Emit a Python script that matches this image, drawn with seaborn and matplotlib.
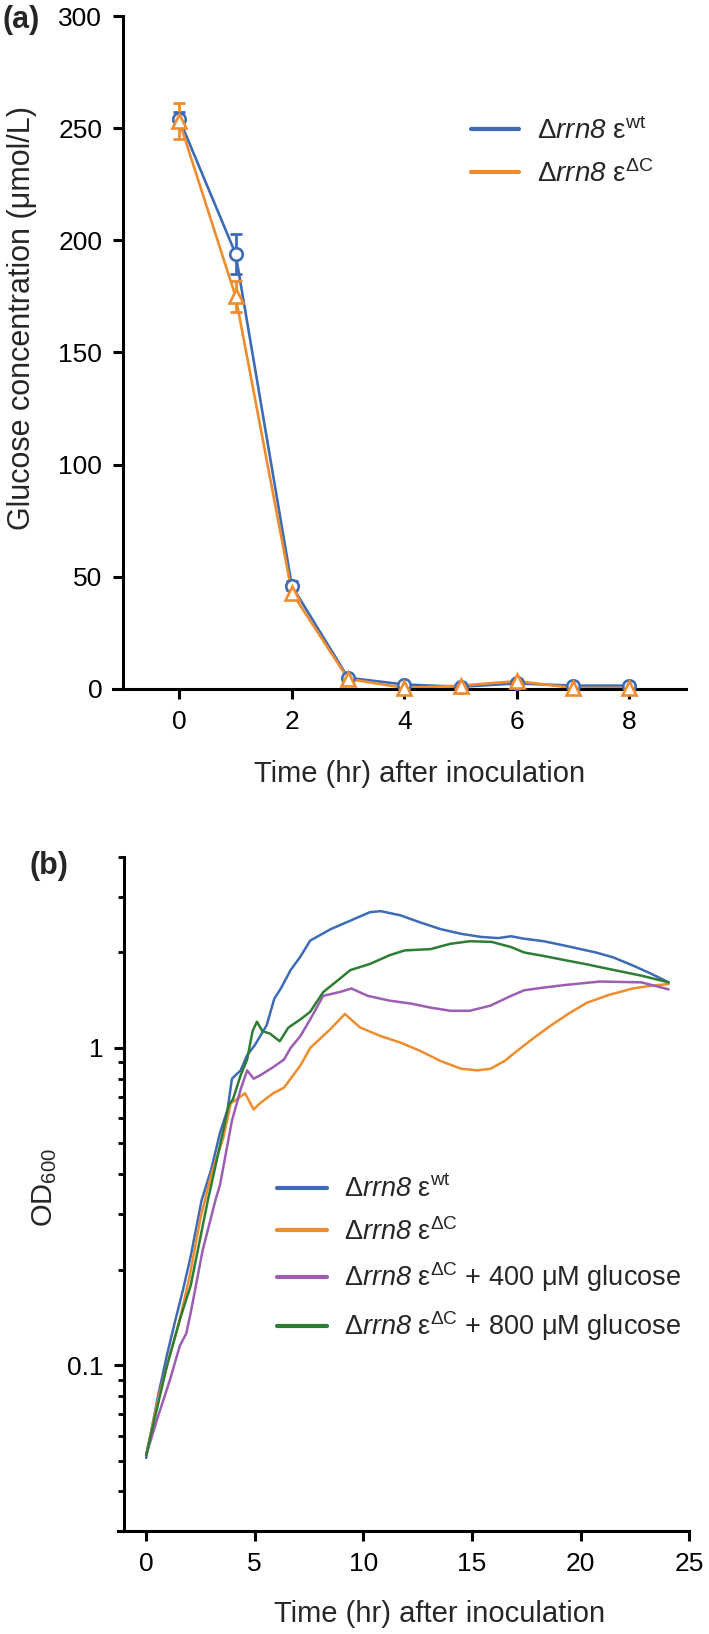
import matplotlib
matplotlib.use("Agg")
import matplotlib.pyplot as plt
import seaborn as sns
import pandas as pd
from matplotlib.ticker import LogLocator, NullFormatter

# ---- (a) glucose left in the medium ----
hours_a = [0, 1, 2, 3, 4, 5, 6, 7, 8]
glc_wt = [254, 194, 46, 5, 2, 1, 2.5, 1.5, 1.5]
glc_wt_err = [3, 9, 2, 1, 0.5, 0.5, 0.5, 0.5, 0.5]
glc_dc = [253, 175, 43, 4.5, 0.5, 1.5, 3.5, 0.5, 0.5]
glc_dc_err = [8, 7, 3, 1, 0.5, 0.5, 1, 0.5, 0.5]

# ---- (b) growth curves (OD600) ----
t_wt = [0, 0.55, 0.95, 1.35, 1.7, 2.05, 2.55, 3.0, 3.4, 3.75, 3.95, 4.35, 4.65, 5.0,
        5.55, 5.9, 6.2, 6.65, 7.1, 7.55, 8.5, 9.4, 10.3, 10.8, 11.7, 12.6, 13.55,
        14.5, 15.4, 16.2, 16.8, 17.4, 18.3, 19.3, 20.7, 21.5, 22.4, 23.2, 24.05]
od_wt = [0.051, 0.08, 0.107, 0.139, 0.173, 0.22, 0.33, 0.415, 0.54, 0.64, 0.80, 0.85,
         0.95, 1.02, 1.18, 1.43, 1.54, 1.76, 1.94, 2.18, 2.37, 2.52, 2.68, 2.70, 2.62,
         2.49, 2.37, 2.29, 2.24, 2.22, 2.25, 2.21, 2.17, 2.10, 2.0, 1.93, 1.82, 1.72, 1.61]

t_dc = [0, 0.55, 1.0, 1.5, 2.0, 2.5, 3.0, 3.55, 3.9, 4.2, 4.55, 4.95, 5.25, 5.85, 6.35,
        6.65, 7.1, 7.55, 8.5, 9.15, 9.85, 10.8, 11.7, 12.6, 13.55, 14.5, 15.25, 15.85,
        16.5, 17.0, 17.8, 18.65, 19.5, 20.3, 21.3, 22.4, 23.2, 24.05]
od_dc = [0.052, 0.078, 0.102, 0.135, 0.19, 0.29, 0.40, 0.52, 0.67, 0.69, 0.72, 0.64,
         0.67, 0.72, 0.75, 0.80, 0.88, 1.0, 1.15, 1.28, 1.16, 1.09, 1.04, 0.98, 0.91,
         0.86, 0.85, 0.86, 0.91, 0.97, 1.07, 1.18, 1.29, 1.39, 1.47, 1.54, 1.57, 1.59]

t_400 = [0, 0.55, 1.1, 1.55, 1.85, 2.05, 2.6, 3.2, 3.4, 3.95, 4.35, 4.65, 4.95, 5.25,
         5.85, 6.35, 6.65, 7.1, 7.55, 8.15, 8.9, 9.45, 10.2, 11.2, 12.2, 13.1, 14.0,
         14.9, 15.85, 16.8, 17.4, 18.3, 19.3, 20.9, 22.8, 24.05]
od_400 = [0.052, 0.069, 0.09, 0.115, 0.126, 0.146, 0.23, 0.333, 0.37, 0.59, 0.74, 0.85,
          0.80, 0.82, 0.87, 0.92, 1.0, 1.09, 1.23, 1.46, 1.50, 1.54, 1.46, 1.41, 1.38,
          1.34, 1.31, 1.31, 1.36, 1.46, 1.52, 1.55, 1.58, 1.62, 1.61, 1.53]

t_800 = [0, 0.95, 1.55, 2.05, 2.85, 3.0, 3.5, 3.8, 4.0, 4.35, 4.65, 4.9, 5.1, 5.35,
         5.7, 6.15, 6.55, 7.1, 7.55, 8.15, 8.9, 9.4, 10.3, 11.2, 11.9, 13.1, 14.0,
         14.9, 15.9, 16.8, 17.4, 18.3, 19.3, 20.2, 21.2, 22.8, 24.05]
od_800 = [0.052, 0.099, 0.139, 0.178, 0.333, 0.37, 0.53, 0.66, 0.69, 0.82, 0.92, 1.13,
          1.21, 1.13, 1.11, 1.05, 1.16, 1.23, 1.30, 1.50, 1.65, 1.76, 1.84, 1.96, 2.03,
          2.05, 2.13, 2.17, 2.16, 2.08, 2.0, 1.95, 1.89, 1.84, 1.78, 1.69, 1.61]

# \mathsf is mapped to the italic face below so that the "8" is slanted too
lab_wt = r"$\mathrm{Δ}\mathsf{rrn8}\ \mathrm{ε}^{\mathrm{wt}}$"
lab_dc = r"$\mathrm{Δ}\mathsf{rrn8}\ \mathrm{ε}^{\mathrm{ΔC}}$"
lab_400 = lab_dc + " + 400 μM glucose"
lab_800 = lab_dc + " + 800 μM glucose"

BLUE = "#3d6bb5"
ORANGE = "#ef8c2e"
PURPLE = "#9c5db2"
GREEN = "#2e7d34"

sns.set_theme(style="ticks")
plt.rcParams["font.family"] = ["Liberation Sans", "DejaVu Sans"]
plt.rcParams["mathtext.fontset"] = "custom"
plt.rcParams["mathtext.rm"] = "Liberation Sans"
plt.rcParams["mathtext.it"] = "Liberation Sans:italic"
plt.rcParams["mathtext.bf"] = "Liberation Sans:bold"
plt.rcParams["mathtext.sf"] = "Liberation Sans:italic"

W, H = 709, 1634
fig = plt.figure(figsize=(W / 100, H / 100), dpi=100)


def px_axes(x0, x1, y_top, y_bot):
    return fig.add_axes([x0 / W, 1 - y_bot / H, (x1 - x0) / W, (y_bot - y_top) / H])


def style_axes(ax):
    sns.despine(ax=ax)
    for s in ("left", "bottom"):
        ax.spines[s].set_linewidth(2.2)
        ax.spines[s].set_color("black")
    ax.spines["left"].set_position(("data", -1.0))
    ax.tick_params(which="major", length=7, width=2.2, pad=8, labelsize=19,
                   color="black", labelcolor="black")
    ax.tick_params(which="minor", length=4, width=2.0, color="black")
    ax.grid(False)
    ax.set_facecolor("white")


# ---------------- panel (a) ----------------
ax1 = px_axes(113, 685.5, 16, 689)
for y, err, col, mk, ms, lab in [(glc_wt, glc_wt_err, BLUE, "o", 9, lab_wt),
                                  (glc_dc, glc_dc_err, ORANGE, "^", 10, lab_dc)]:
    sns.lineplot(x=hours_a, y=y, color=col, lw=1.9, label=lab, ax=ax1, zorder=2)
    ax1.errorbar(hours_a, y, yerr=err, fmt="none", ecolor=col, elinewidth=2,
                 capsize=4, capthick=2, zorder=3)
    ax1.plot(hours_a, y, ls="none", marker=mk, ms=ms, mfc="white", mec=col,
             mew=1.9, clip_on=False, zorder=4)

ax1.set_xlim(-1.18, 9)
ax1.set_ylim(0, 300)
ax1.set_xticks([0, 2, 4, 6, 8])
ax1.set_yticks([0, 50, 100, 150, 200, 250, 300])
ax1.set_xlabel("")
ax1.set_ylabel("")
style_axes(ax1)
h, l = ax1.get_legend_handles_labels()
leg1 = ax1.legend(h, l, loc="center left", bbox_to_anchor=(470.6 / W, 1 - 152.5 / H),
                  bbox_transform=fig.transFigure, frameon=False, fontsize=20,
                  borderpad=0, borderaxespad=0, handlelength=1.75,
                  handletextpad=0.65, labelspacing=0.55)
for ln in leg1.get_lines():
    ln.set_linewidth(3)

# ---------------- panel (b) ----------------
ax2 = px_axes(118.3, 689.3, 857, 1531)
curves = pd.concat([
    pd.DataFrame({"hours": t_wt, "od600": od_wt, "strain": lab_wt}),
    pd.DataFrame({"hours": t_dc, "od600": od_dc, "strain": lab_dc}),
    pd.DataFrame({"hours": t_400, "od600": od_400, "strain": lab_400}),
    pd.DataFrame({"hours": t_800, "od600": od_800, "strain": lab_800}),
])
sns.lineplot(data=curves, x="hours", y="od600", hue="strain",
             hue_order=[lab_wt, lab_dc, lab_400, lab_800],
             palette=[BLUE, ORANGE, PURPLE, GREEN], estimator=None, sort=False,
             lw=1.8, ax=ax2)
ax2.set_yscale("log")
ax2.set_xlim(-1.28, 25)
ax2.set_ylim(0.03, 4)
ax2.set_xticks([0, 5, 10, 15, 20, 25])
ax2.set_yticks([0.1, 1])
ax2.set_yticklabels(["0.1", "1"])
ax2.yaxis.set_minor_locator(LogLocator(base=10, subs=range(2, 10)))
ax2.yaxis.set_minor_formatter(NullFormatter())
ax2.set_xlabel("")
ax2.set_ylabel("")
style_axes(ax2)
h, l = ax2.get_legend_handles_labels()
leg2 = ax2.legend(h, l, loc="center left", bbox_to_anchor=(277 / W, 1 - 1259.5 / H),
                  bbox_transform=fig.transFigure, frameon=False, fontsize=19.5,
                  borderpad=0, borderaxespad=0, handlelength=1.85,
                  handletextpad=0.62, labelspacing=0.55)
for ln in leg2.get_lines():
    ln.set_linewidth(3)

# ---------------- labels ----------------
fig.text(22 / W, 1 - 317.5 / H, "Glucose concentration (μmol/L)", rotation=90,
         ha="center", va="center", fontsize=22)
fig.text(419.7 / W, 1 - 781.7 / H, "Time (hr) after inoculation", ha="center",
         va="baseline", fontsize=21)
fig.text(45 / W, 1 - 1187 / H, r"OD$_{\mathrm{600}}$", rotation=90, ha="center",
         va="center", fontsize=21)
fig.text(439.4 / W, 1 - 1621.7 / H, "Time (hr) after inoculation", ha="center",
         va="baseline", fontsize=21)
fig.text(3 / W, 1 - 20 / H, "(a)", ha="left", va="center", fontsize=22,
         fontweight="bold")
fig.text(30 / W, 1 - 866 / H, "(b)", ha="left", va="center", fontsize=22,
         fontweight="bold")

fig.savefig("out.png", dpi=100, facecolor="white")
